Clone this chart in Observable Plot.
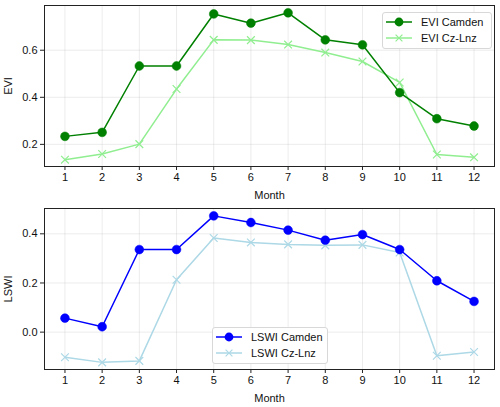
<!DOCTYPE html>
<html><head><meta charset="utf-8">
<script src="https://cdn.jsdelivr.net/npm/d3@7"></script>
<script src="https://cdn.jsdelivr.net/npm/@observablehq/plot@0.6"></script>
<style>
body{margin:0;background:#fff;font-family:"Liberation Sans",Arial,sans-serif;}
#wrap{position:relative;width:500px;height:407px;}
.legend{position:absolute;background:#fff;border:1px solid #d8d8d8;border-radius:3px;font-size:11px;color:#111;}
.legend .row{position:absolute;left:0;display:flex;align-items:center;white-space:nowrap;}
.legend svg{display:block;}
</style>
</head><body><div id="wrap"></div>
<script>
const months = [1,2,3,4,5,6,7,8,9,10,11,12];
const eviCamden = [0.234,0.251,0.533,0.533,0.754,0.715,0.759,0.644,0.623,0.420,0.309,0.278];
const eviCzLnz  = [0.135,0.159,0.201,0.435,0.644,0.643,0.624,0.590,0.552,0.463,0.157,0.145];
const lswiCamden = [0.057,0.022,0.336,0.336,0.473,0.446,0.415,0.374,0.397,0.336,0.209,0.125];
const lswiCzLnz  = [-0.102,-0.123,-0.117,0.213,0.383,0.365,0.357,0.353,0.355,0.324,-0.096,-0.081];
const eviTicks = [0.2,0.4,0.6];
const lswiTicks = [0.0,0.2,0.4];
const seriesNames = ["EVI Camden","EVI Cz-Lnz","LSWI Camden","LSWI Cz-Lnz"];
const colors = ["#008000","#90ee90","#0000ff","#add8e6"];

const wrap = document.getElementById("wrap");

function panel(a, b, cA, cB, yLabel, yDomain, yTicks, height, mTop, mBottom) {
  const dA = months.map((m,i)=>({m, v:a[i]}));
  const dB = months.map((m,i)=>({m, v:b[i]}));
  return Plot.plot({
    width: 500, height, marginLeft: 44, marginRight: 6, marginTop: mTop, marginBottom: mBottom,
    style: {fontFamily: '"Liberation Sans", Arial, sans-serif', fontSize: "11px", color: "#111", background: "#fff", overflow: "visible"},
    x: {domain: [0.45, 12.55]},
    y: {domain: yDomain},
    marks: [
      Plot.gridX(months, {stroke: "#b0b0b0", strokeOpacity: 0.3, strokeWidth: 0.8}),
      Plot.gridY(yTicks, {stroke: "#b0b0b0", strokeOpacity: 0.3, strokeWidth: 0.8}),
      Plot.axisX({ticks: months, tickFormat: d => String(d), tickSize: 4, tickPadding: 3, label: "Month", labelAnchor: "center", labelArrow: "none", labelOffset: 32, stroke: "#222"}),
      Plot.axisY({ticks: yTicks, tickFormat: d3.format(".1f"), tickSize: 4, tickPadding: 3, label: yLabel, labelAnchor: "center", labelArrow: "none", labelOffset: 40, stroke: "#222"}),
      Plot.lineY(dB, {x: "m", y: "v", stroke: cB, strokeWidth: 1.5}),
      Plot.dot(dB, {x: "m", y: "v", symbol: "times", r: 3.6, stroke: cB, strokeWidth: 1.2}),
      Plot.lineY(dA, {x: "m", y: "v", stroke: cA, strokeWidth: 1.5}),
      Plot.dot(dA, {x: "m", y: "v", r: 4.4, fill: cA, stroke: cA, strokeWidth: 0.5}),
      Plot.frame({stroke: "#222", strokeWidth: 1})
    ]
  });
}

const p1 = panel(eviCamden, eviCzLnz, colors[0], colors[1], "EVI", [0.106, 0.79], eviTicks, 204, 5, 38);
const p2 = panel(lswiCamden, lswiCzLnz, colors[2], colors[3], "LSWI", [-0.152, 0.503], lswiTicks, 203, 4, 38);
p1.style.display = "block"; p2.style.display = "block";
wrap.appendChild(p1); wrap.appendChild(p2);

function legend(left, top, w, h, names, cols) {
  const div = document.createElement("div");
  div.className = "legend";
  Object.assign(div.style, {left: left + "px", top: top + "px", width: w + "px", height: h + "px"});
  names.forEach((n, i) => {
    const row = document.createElement("div");
    row.className = "row";
    row.style.top = (2 + i * 16) + "px";
    row.style.height = "14px";
    const ns = "http://www.w3.org/2000/svg";
    const svg = document.createElementNS(ns, "svg");
    svg.setAttribute("width", 36); svg.setAttribute("height", 14);
    const line = document.createElementNS(ns, "line");
    line.setAttribute("x1", 3); line.setAttribute("x2", 29); line.setAttribute("y1", 7); line.setAttribute("y2", 7);
    line.setAttribute("stroke", cols[i]); line.setAttribute("stroke-width", 1.5);
    svg.appendChild(line);
    if (i === 0) {
      const c = document.createElementNS(ns, "circle");
      c.setAttribute("cx", 16); c.setAttribute("cy", 7); c.setAttribute("r", 4.4); c.setAttribute("fill", cols[i]);
      svg.appendChild(c);
    } else {
      const p = document.createElementNS(ns, "path");
      p.setAttribute("d", "M12.6,3.6L19.4,10.4M12.6,10.4L19.4,3.6");
      p.setAttribute("stroke", cols[i]); p.setAttribute("stroke-width", 1.2);
      svg.appendChild(p);
    }
    row.appendChild(svg);
    const t = document.createElement("span");
    t.textContent = n;
    t.style.marginLeft = "2px";
    row.appendChild(t);
    div.appendChild(row);
  });
  wrap.appendChild(div);
}
legend(382, 12, 108, 35, seriesNames.slice(0,2), colors.slice(0,2));
legend(212, 327, 114, 35, seriesNames.slice(2,4), colors.slice(2,4));
</script></body></html>
